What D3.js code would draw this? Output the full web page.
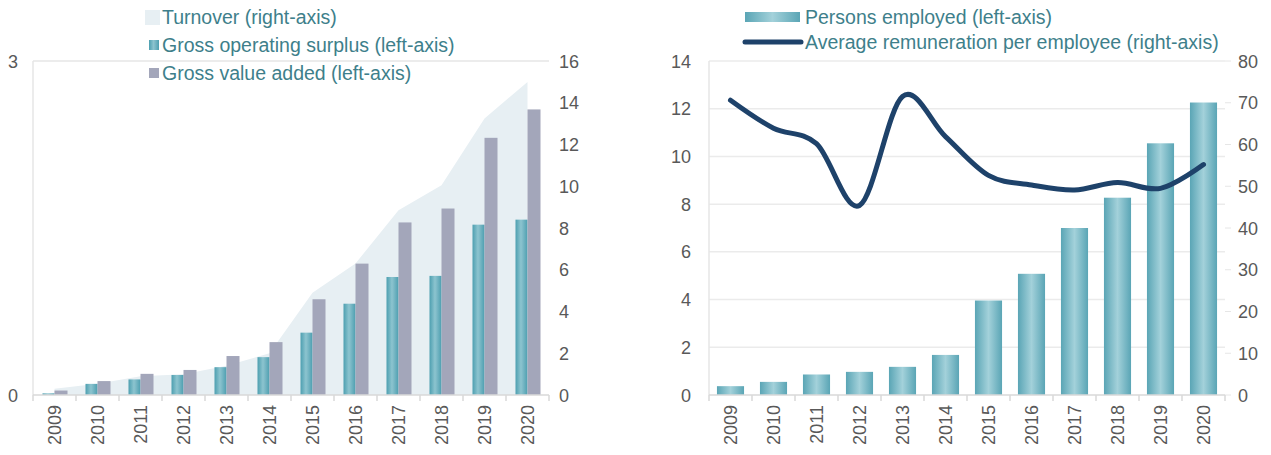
<!DOCTYPE html>
<html><head><meta charset="utf-8">
<script src="https://cdn.jsdelivr.net/npm/d3@7"></script>
<style>
html,body{margin:0;padding:0;background:#fff;}
svg{display:block;font-family:"Liberation Sans",Arial,sans-serif;}
</style></head>
<body><svg id="c" width="1271" height="455"></svg>
<script>
const years = ["2009","2010","2011","2012","2013","2014","2015","2016","2017","2018","2019","2020"];
const turnover = [0.3,0.54,0.9,1.0,1.4,2.0,4.9,6.3,8.85,10.05,13.25,15.0];
const grossOperatingSurplus = [0.015,0.10,0.14,0.18,0.25,0.34,0.56,0.82,1.06,1.07,1.53,1.575];
const grossValueAdded = [0.04,0.125,0.19,0.225,0.35,0.475,0.86,1.18,1.55,1.675,2.31,2.565];
const personsEmployed = [0.37,0.55,0.86,0.97,1.18,1.68,3.96,5.08,7.0,8.27,10.55,12.26];
const avgRemuneration = [70.6,63.9,60.2,45.4,71.5,61.9,52.6,50.3,49.1,50.9,49.5,55.2];
const leftTicksA = [0,3];
const rightTicksA = [0,2,4,6,8,10,12,14,16];
const leftTicksB = [0,2,4,6,8,10,12,14];
const rightTicksB = [0,10,20,30,40,50,60,70,80];

const svg = d3.select("#c");
const defs = svg.append("defs");
function grad(id, stops){
  const g = defs.append("linearGradient").attr("id",id).attr("x1","0%").attr("x2","100%").attr("y1","0%").attr("y2","0%");
  stops.forEach(s=>g.append("stop").attr("offset",s[0]).attr("stop-color",s[1]));
}
grad("tealA",[["0%","#4d9fb0"],["45%","#8cc4cf"],["60%","#7dbac7"],["100%","#4d9fb0"]]);
grad("tealB",[["0%","#5aa5b5"],["50%","#a3d1da"],["100%","#5aa5b5"]]);

const axisColor = "#595959";
const lineGray = "#d9d9d9";
const legendColor = "#3e7f8b";
const fs = 18;
const lfs = 19.5;

// ---------- Left chart ----------
const A = {left:33, right:549, top:61, bottom:395};
const xA = d3.scaleBand().domain(years).range([A.left, A.right]);
const yAL = d3.scaleLinear().domain([0,3]).range([A.bottom, A.top]);
const yAR = d3.scaleLinear().domain([0,16]).range([A.bottom, A.top]);
const gA = svg.append("g");

gA.append("line").attr("x1",A.left).attr("x2",A.right).attr("y1",yAL(3)).attr("y2",yAL(3)).attr("stroke","#e6e6e6").attr("stroke-width",1.5);
gA.append("line").attr("x1",A.left).attr("x2",A.left).attr("y1",A.top).attr("y2",A.bottom).attr("stroke","#e6e6e6").attr("stroke-width",1.5);

const area = d3.area().x((d,i)=>xA(years[i])+xA.bandwidth()/2).y0(A.bottom).y1(d=>yAR(d));
gA.append("path").datum(turnover).attr("d",area).attr("fill","#e7eff3");

const bw = 12;
gA.selectAll(".gos").data(grossOperatingSurplus).join("rect")
  .attr("x",(d,i)=>xA(years[i])+xA.bandwidth()/2-bw).attr("width",bw)
  .attr("y",d=>yAL(d)).attr("height",d=>A.bottom-yAL(d)).attr("fill","url(#tealA)");
gA.selectAll(".gva").data(grossValueAdded).join("rect")
  .attr("x",(d,i)=>xA(years[i])+xA.bandwidth()/2).attr("width",bw+1)
  .attr("y",d=>yAL(d)).attr("height",d=>A.bottom-yAL(d)).attr("fill","#a3a6ba");

gA.append("line").attr("x1",A.left).attr("x2",A.right).attr("y1",A.bottom).attr("y2",A.bottom).attr("stroke",lineGray).attr("stroke-width",1.5);
gA.selectAll(".tk").data(d3.range(13)).join("line")
  .attr("x1",i=>A.left+i*xA.step()).attr("x2",i=>A.left+i*xA.step())
  .attr("y1",A.bottom).attr("y2",A.bottom+6).attr("stroke",lineGray).attr("stroke-width",1.5);
gA.selectAll(".xl").data(years).join("text")
  .attr("transform",d=>`translate(${xA(d)+xA.bandwidth()/2+6.5},${A.bottom+10}) rotate(-90)`)
  .attr("text-anchor","end").attr("font-size",fs).attr("fill",axisColor).text(d=>d);
gA.selectAll(".yl").data(leftTicksA).join("text")
  .attr("x",18).attr("y",d=>yAL(d)+6.5).attr("text-anchor","end").attr("font-size",fs).attr("fill",axisColor).text(d=>d);
gA.selectAll(".yr").data(rightTicksA).join("text")
  .attr("x",559).attr("y",d=>yAR(d)+6.5).attr("text-anchor","start").attr("font-size",fs).attr("fill",axisColor).text(d=>d);

const legA = svg.append("g");
legA.append("rect").attr("x",145).attr("y",10).attr("width",15).attr("height",15).attr("fill","#e7eff3");
legA.append("rect").attr("x",149).attr("y",40).attr("width",10).attr("height",10).attr("fill","url(#tealA)");
legA.append("rect").attr("x",149).attr("y",68).attr("width",10).attr("height",10).attr("fill","#a3a6ba");
[["Turnover (right-axis)",24],["Gross operating surplus (left-axis)",52],["Gross value added (left-axis)",80]].forEach(([t,y])=>{
  legA.append("text").attr("x",162).attr("y",y).attr("font-size",lfs).attr("fill",legendColor).text(t);
});

// ---------- Right chart ----------
const B = {left:709, right:1225, top:61, bottom:395};
const xB = d3.scaleBand().domain(years).range([B.left, B.right]).paddingInner(0.37).paddingOuter(0.185);
const xBc = d3.scaleBand().domain(years).range([B.left, B.right]);
const yBL = d3.scaleLinear().domain([0,14]).range([B.bottom, B.top]);
const yBR = d3.scaleLinear().domain([0,80]).range([B.bottom, B.top]);
const gB = svg.append("g");

gB.selectAll(".grid").data(leftTicksB.filter(d=>d>0)).join("line")
  .attr("x1",B.left).attr("x2",B.right).attr("y1",d=>yBL(d)).attr("y2",d=>yBL(d))
  .attr("stroke","#ebebeb").attr("stroke-width",1.5);
gB.append("line").attr("x1",B.left).attr("x2",B.left).attr("y1",B.top).attr("y2",B.bottom).attr("stroke","#e6e6e6").attr("stroke-width",1.5);
gB.selectAll(".rtk").data(rightTicksB).join("line")
  .attr("x1",B.right).attr("x2",B.right+6).attr("y1",d=>yBR(d)).attr("y2",d=>yBR(d))
  .attr("stroke","#e6e6e6").attr("stroke-width",1);

gB.selectAll(".pe").data(personsEmployed).join("rect")
  .attr("x",(d,i)=>xB(years[i])).attr("width",xB.bandwidth())
  .attr("y",d=>yBL(d)).attr("height",d=>B.bottom-yBL(d)).attr("fill","url(#tealB)");

const line = d3.line().x((d,i)=>xBc(years[i])+xBc.bandwidth()/2).y(d=>yBR(d)).curve(d3.curveCardinal.tension(0));
gB.append("path").datum(avgRemuneration).attr("d",line).attr("fill","none")
  .attr("stroke","#1e426a").attr("stroke-width",5).attr("stroke-linecap","round").attr("stroke-linejoin","round");

gB.append("line").attr("x1",B.left).attr("x2",B.right).attr("y1",B.bottom).attr("y2",B.bottom).attr("stroke",lineGray).attr("stroke-width",1.5);
gB.selectAll(".tk").data(d3.range(13)).join("line")
  .attr("x1",i=>B.left+i*xBc.step()).attr("x2",i=>B.left+i*xBc.step())
  .attr("y1",B.bottom).attr("y2",B.bottom+6).attr("stroke",lineGray).attr("stroke-width",1.5);
gB.selectAll(".xl").data(years).join("text")
  .attr("transform",d=>`translate(${xBc(d)+xBc.bandwidth()/2+6.5},${B.bottom+10}) rotate(-90)`)
  .attr("text-anchor","end").attr("font-size",fs).attr("fill",axisColor).text(d=>d);
gB.selectAll(".yl").data(leftTicksB).join("text")
  .attr("x",691).attr("y",d=>yBL(d)+6.5).attr("text-anchor","end").attr("font-size",fs).attr("fill",axisColor).text(d=>d);
gB.selectAll(".yr").data(rightTicksB).join("text")
  .attr("x",1238).attr("y",d=>yBR(d)+6.5).attr("text-anchor","start").attr("font-size",fs).attr("fill",axisColor).text(d=>d);

const legB = svg.append("g");
legB.append("rect").attr("x",745).attr("y",12).attr("width",55).attr("height",10).attr("fill","url(#tealB)");
legB.append("line").attr("x1",745).attr("x2",801).attr("y1",42).attr("y2",42).attr("stroke","#1e426a").attr("stroke-width",5).attr("stroke-linecap","round");
legB.append("text").attr("x",805).attr("y",24).attr("font-size",lfs).attr("fill",legendColor).text("Persons employed (left-axis)");
legB.append("text").attr("x",805).attr("y",49).attr("font-size",lfs).attr("fill",legendColor).text("Average remuneration per employee (right-axis)");
</script></body></html>
